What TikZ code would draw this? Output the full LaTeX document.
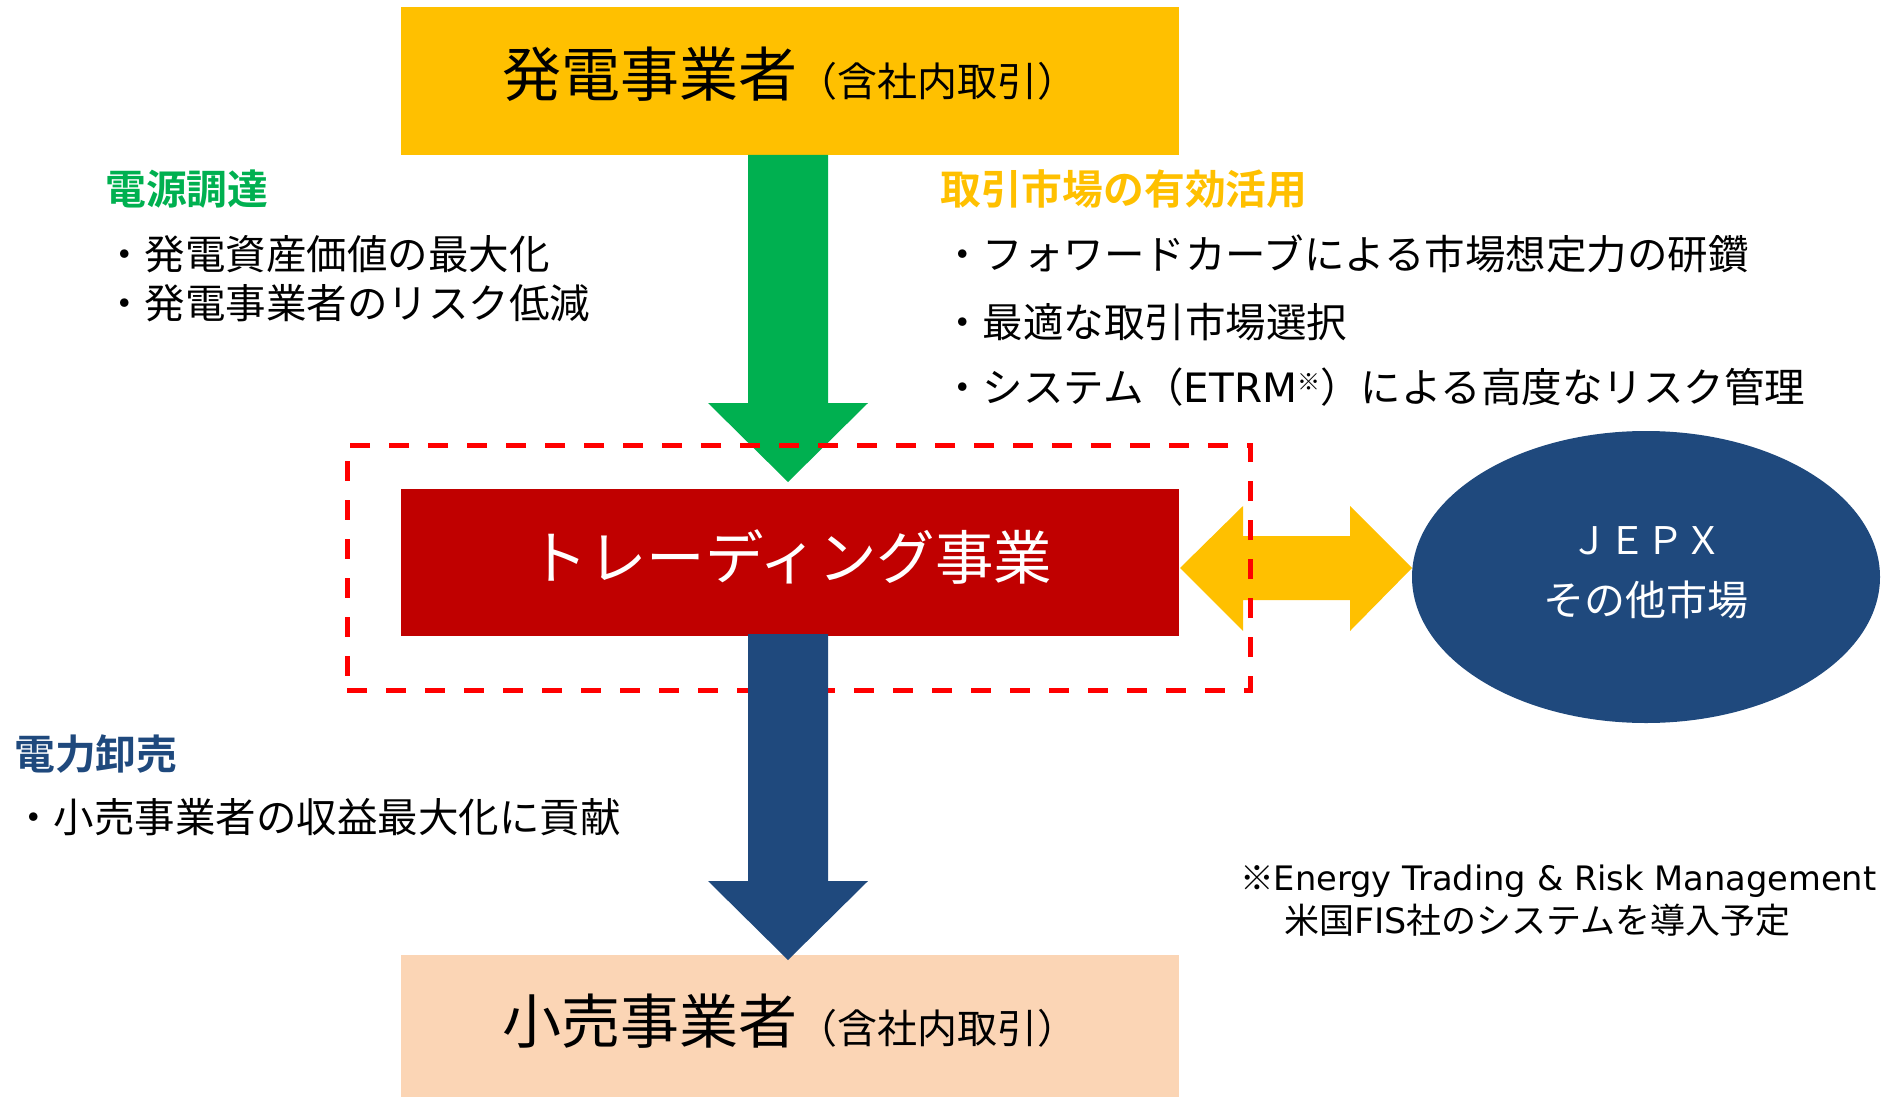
\documentclass[tikz,border=0pt]{standalone}
\usepackage{fontspec}
\setmainfont{Noto Sans CJK JP}[BoldFont={Noto Sans CJK JP Bold}]
\newfontfamily\lat{DejaVu Sans}
\usetikzlibrary{calc,shapes.geometric}
\definecolor{cyel}{HTML}{FFC000}
\definecolor{cgrn}{HTML}{00B050}
\definecolor{cred}{HTML}{C00000}
\definecolor{cblu}{HTML}{1F497D}
\definecolor{cpch}{HTML}{FBD5B5}
\definecolor{cdash}{HTML}{FF0000}
\begin{document}
\begin{tikzpicture}[x=1pt,y=-1pt,
  blk/.style={inner sep=0pt,outer sep=0pt,anchor=north west},
  txt/.style={inner sep=0pt,anchor=base west,text=black},
  head/.style={inner sep=0pt,anchor=base west,font=\bfseries\fontsize{40.8}{44}\selectfont},
  body/.style={txt,font=\fontsize{40.5}{44}\selectfont}]
\useasboundingbox (0,0) rectangle (1898,1097);
% boxes
\node[blk,fill=cyel,minimum width=778pt,minimum height=148pt] (gen) at (401,7) {};
\node[blk,fill=cpch,minimum width=778pt,minimum height=145pt] (ret) at (401,955) {};
\node[blk,fill=cred,minimum width=778pt,minimum height=147pt] (trd) at (401,489) {};
% green arrow
\fill[cgrn] (748,155) -- (828,155) -- (828,403) -- (868,403) -- (788,482) -- (708,403) -- (748,403) -- cycle;
% yellow double arrow
\fill[cyel] (1180,568) -- (1243,506) -- (1243,536) -- (1350,536) -- (1350,506) -- (1412,568) -- (1350,631) -- (1350,600) -- (1243,600) -- (1243,631) -- cycle;
% dashed frame
\node[blk,draw=cdash,line width=5pt,dash pattern=on 20pt off 19pt,minimum width=903pt,minimum height=245pt] (frame) at (347,445) {};
% blue arrow
\fill[cblu] (748,634) -- (828,634) -- (828,881) -- (868,881) -- (788,960) -- (708,881) -- (748,881) -- cycle;
% ellipse
\node[ellipse,fill=cblu,inner sep=0pt,minimum width=468pt,minimum height=292pt] (mkt) at (1646,577) {};
% box texts
\node[txt] (gent) at (502,97) {\fontsize{59}{62}\selectfont 発電事業者\fontsize{40}{44}\selectfont （含社内取引）};
\node[txt] (rett) at (502,1043) {\fontsize{59}{62}\selectfont 小売事業者\fontsize{40}{44}\selectfont （含社内取引）};
\node[inner sep=0pt,anchor=base,text=white,font=\fontsize{58.5}{62}\selectfont] (trdt) at (791,579) {トレーディング事業};
\node[inner sep=0pt,anchor=base,text=white,font=\fontsize{38}{42}\selectfont] (jepx) at (1646,554) {ＪＥＰＸ};
\node[inner sep=0pt,anchor=base,text=white,font=\fontsize{41}{44}\selectfont] (oth) at (1646,615) {その他市場};
% left texts
\node[head,text=cgrn] (h1) at (105,204) {電源調達};
\node[body] (b1) at (104,269) {・発電資産価値の最大化};
\node[body] (b2) at (104,318) {・発電事業者のリスク低減};
% right texts
\node[head,text=cyel] (h2) at (940,204) {取引市場の有効活用};
\node[body] (r1) at (942,269) {・フォワードカーブによる市場想定力の研鑽};
\node[body] (r2) at (942,337) {・最適な取引市場選択};
\node[body] (r3) at (942,402) {・システム（{\lat ETRM}\raisebox{12pt}{\fontsize{23}{24}\selectfont ※}）による高度なリスク管理};
% bottom left
\node[head,text=cblu] (h3) at (14,769) {電力卸売};
\node[body] (b3) at (13,832) {・小売事業者の収益最大化に貢献};
% footnote
\node[txt,font=\fontsize{33.7}{38}\selectfont] (f1) at (1240,890) {※{\lat Energy Trading \& Risk Management}};
\node[txt,font=\fontsize{35}{38}\selectfont] (f2) at (1284,933) {米国{\lat FIS}社のシステムを導入予定};
\end{tikzpicture}
\end{document}
